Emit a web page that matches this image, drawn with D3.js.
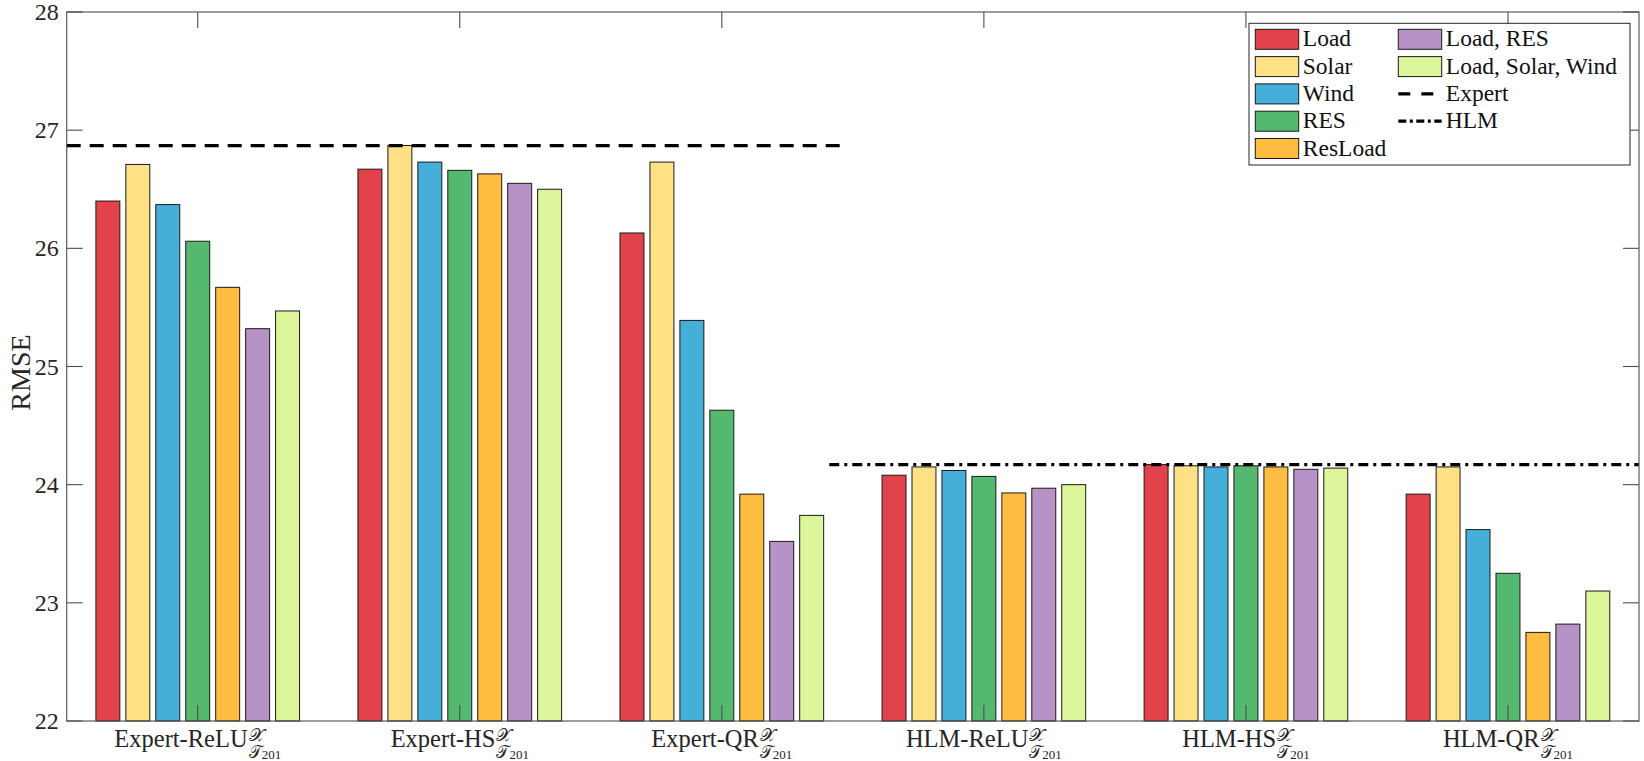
<!DOCTYPE html>
<html>
<head>
<meta charset="utf-8">
<script src="https://cdn.jsdelivr.net/npm/d3@7"></script>
<style>
  body { margin: 0; background: #fff; }
  svg { display: block; }
  svg text { font-family: "Liberation Serif", "DejaVu Serif", serif; }
</style>
</head>
<body>
<div id="chart"></div>
<script>
// model groups on the x axis
const categories = ['Expert-ReLU', 'Expert-HS', 'Expert-QR', 'HLM-ReLU', 'HLM-HS', 'HLM-QR'];
// input feature sets (one bar per group each)
const seriesNames = ['Load', 'Solar', 'Wind', 'RES', 'ResLoad', 'Load, RES', 'Load, Solar, Wind'];
const seriesColors = ['#E2434A', '#FFE185', '#45AFDA', '#54B96E', '#FEBC40', '#B692C6', '#DCF59B'];

const rmseLoad        = [26.40, 26.67, 26.13, 24.08, 24.17, 23.92];
const rmseSolar       = [26.71, 26.87, 26.73, 24.15, 24.16, 24.15];
const rmseWind        = [26.37, 26.73, 25.39, 24.12, 24.15, 23.62];
const rmseRES         = [26.06, 26.66, 24.63, 24.07, 24.16, 23.25];
const rmseResLoad     = [25.67, 26.63, 23.92, 23.93, 24.15, 22.75];
const rmseLoadRES     = [25.32, 26.55, 23.52, 23.97, 24.13, 22.82];
const rmseLoadSolWind = [25.47, 26.50, 23.74, 24.00, 24.14, 23.10];
const seriesValues = [rmseLoad, rmseSolar, rmseWind, rmseRES, rmseResLoad, rmseLoadRES, rmseLoadSolWind];

// reference levels: [value, x from, x to] in group units
const expertRef = [26.87, 0.5, 3.46];
const hlmRef = [24.17, 3.41, 6.5];

const yTicks = [22, 23, 24, 25, 26, 27, 28];

const width = 1644, height = 761;
const mLeft = 66.7, mRight = 1639, mTop = 12, mBottom = 721;

const svg = d3.select('#chart').append('svg')
    .attr('width', width)
    .attr('height', height);

const x = d3.scaleLinear().domain([0.5, categories.length + 0.5]).range([mLeft, mRight]);
const y = d3.scaleLinear().domain([22, 28]).range([mBottom, mTop]);

const groupW = (x(1) - x(0)) * 0.8;
const x1 = d3.scaleBand()
    .domain(seriesNames)
    .range([-groupW / 2, groupW / 2])
    .paddingInner(0.2)
    .paddingOuter(0.1);

// bars
const barData = [];
seriesNames.forEach((s, j) => {
    categories.forEach((c, i) => {
        barData.push({ s, j, i, v: seriesValues[j][i] });
    });
});

svg.append('g')
    .selectAll('rect')
    .data(barData)
    .enter().append('rect')
    .attr('x', d => x(d.i + 1) + x1(d.s))
    .attr('width', x1.bandwidth())
    .attr('y', d => y(d.v))
    .attr('height', d => y(22) - y(d.v))
    .attr('fill', d => seriesColors[d.j])
    .attr('stroke', '#1a1a1a')
    .attr('stroke-width', 1);

// reference lines
svg.append('line')
    .attr('x1', x(expertRef[1])).attr('x2', x(expertRef[2]))
    .attr('y1', y(expertRef[0])).attr('y2', y(expertRef[0]))
    .attr('stroke', '#000').attr('stroke-width', 3.2)
    .attr('stroke-dasharray', '14 9');

svg.append('line')
    .attr('x1', x(hlmRef[1])).attr('x2', x(hlmRef[2]))
    .attr('y1', y(hlmRef[0])).attr('y2', y(hlmRef[0]))
    .attr('stroke', '#000').attr('stroke-width', 3.2)
    .attr('stroke-dasharray', '10 5 3 5');

// axes box + inward ticks
const axisColor = '#4d4d4d';
const tickLen = 16;
const ax = svg.append('g').attr('stroke', axisColor).attr('stroke-width', 1.1);
ax.append('rect')
    .attr('x', mLeft).attr('y', mTop)
    .attr('width', mRight - mLeft).attr('height', mBottom - mTop)
    .attr('fill', 'none');

yTicks.forEach(t => {
    ax.append('line').attr('x1', mLeft).attr('x2', mLeft + tickLen).attr('y1', y(t)).attr('y2', y(t));
    ax.append('line').attr('x1', mRight).attr('x2', mRight - tickLen).attr('y1', y(t)).attr('y2', y(t));
});
categories.forEach((c, i) => {
    ax.append('line').attr('x1', x(i + 1)).attr('x2', x(i + 1)).attr('y1', mBottom).attr('y2', mBottom - tickLen);
    ax.append('line').attr('x1', x(i + 1)).attr('x2', x(i + 1)).attr('y1', mTop).attr('y2', mTop + tickLen);
});

// y tick labels
svg.append('g')
    .selectAll('text')
    .data(yTicks)
    .enter().append('text')
    .attr('x', mLeft - 8)
    .attr('y', d => y(d))
    .attr('dy', '0.34em')
    .attr('text-anchor', 'end')
    .style('font-size', '24px')
    .style('fill', '#262626')
    .text(d => d);

svg.append('text')
    .attr('transform', `translate(30, ${(mTop + mBottom) / 2 + 6}) rotate(-90)`)
    .attr('text-anchor', 'middle')
    .style('font-size', '28px')
    .style('fill', '#262626')
    .text('RMSE');

// x tick labels with super/subscript
categories.forEach((c, i) => {
    const g = svg.append('g').style('fill', '#262626');
    const main = g.append('text')
        .attr('y', 746.7)
        .style('font-size', '24.5px')
        .text(c);
    const mw = main.node().getComputedTextLength();
    const sup = g.append('text')
        .attr('x', mw + 1).attr('y', 741)
        .style('font-size', '18px')
        .text('𝒳');
    const sub = g.append('text')
        .attr('x', mw + 1).attr('y', 757.5)
        .style('font-size', '17px');
    sub.append('tspan').text('𝒯');
    sub.append('tspan').style('font-size', '13px').attr('dy', 1).text('201');
    const tw = mw + 1 + Math.max(sup.node().getComputedTextLength(), sub.node().getComputedTextLength());
    g.attr('transform', `translate(${x(i + 1) - tw / 2}, 0)`);
});

// legend
const lg = svg.append('g');
lg.append('rect')
    .attr('x', 1249).attr('y', 23.3)
    .attr('width', 1630 - 1249).attr('height', 165 - 23.3)
    .attr('fill', '#fff')
    .attr('stroke', '#262626').attr('stroke-width', 1);

const rowStep = 27.3;
const legendItems = seriesNames.map((s, j) => ({ label: s, color: seriesColors[j], type: 'bar' }))
    .concat([{ label: 'Expert', type: 'dash' }, { label: 'HLM', type: 'dashdot' }]);

legendItems.forEach((it, k) => {
    const col = k < 5 ? 0 : 1;
    const row = k < 5 ? k : k - 5;
    const sx = col === 0 ? 1255.3 : 1398.3;
    const sy = 29.3 + row * rowStep;
    if (it.type === 'bar') {
        lg.append('rect')
            .attr('x', sx).attr('y', sy)
            .attr('width', 43.4).attr('height', 20)
            .attr('fill', it.color)
            .attr('stroke', '#1a1a1a').attr('stroke-width', 1);
    } else {
        lg.append('line')
            .attr('x1', sx).attr('x2', it.type === 'dash' ? sx + 36 : sx + 43.4)
            .attr('y1', sy + 10).attr('y2', sy + 10)
            .attr('stroke', '#000').attr('stroke-width', 3.2)
            .attr('stroke-dasharray', it.type === 'dash' ? '12 11' : '8 3.5 3 3.5');
    }
    lg.append('text')
        .attr('x', sx + 47.5).attr('y', sy + 17)
        .style('font-size', '23.5px')
        .style('fill', '#111')
        .text(it.label);
});
</script>
</body>
</html>
